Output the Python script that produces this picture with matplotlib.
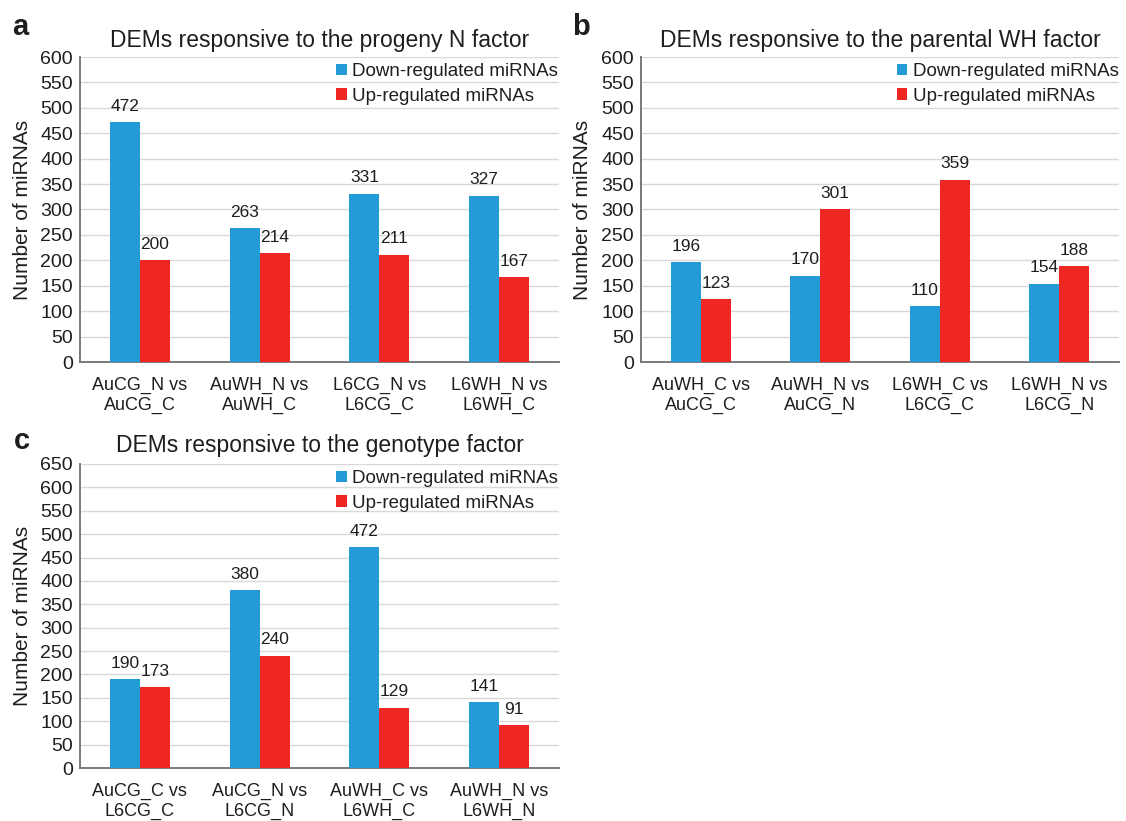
import matplotlib
matplotlib.use("Agg")
import matplotlib.pyplot as plt
import numpy as np

plt.rcParams['font.family'] = ['Liberation Sans', 'DejaVu Sans']

W, H = 1126, 821

# ---------------- data ----------------
titles = ["DEMs responsive to the progeny N factor",
          "DEMs responsive to the parental WH factor",
          "DEMs responsive to the genotype factor"]
panel_letters = ["a", "b", "c"]

cats_a = ["AuCG_N vs\nAuCG_C", "AuWH_N vs\nAuWH_C", "L6CG_N vs\nL6CG_C", "L6WH_N vs\nL6WH_C"]
down_a = [472, 263, 331, 327]
up_a = [200, 214, 211, 167]

cats_b = ["AuWH_C vs\nAuCG_C", "AuWH_N vs\nAuCG_N", "L6WH_C vs\nL6CG_C", "L6WH_N vs\nL6CG_N"]
down_b = [196, 170, 110, 154]
up_b = [123, 301, 359, 188]

cats_c = ["AuCG_C vs\nL6CG_C", "AuCG_N vs\nL6CG_N", "AuWH_C vs\nL6WH_C", "AuWH_N vs\nL6WH_N"]
down_c = [190, 380, 472, 141]
up_c = [173, 240, 129, 91]

series_names = ["Down-regulated miRNAs", "Up-regulated miRNAs"]
ymax = [600, 600, 650]
ystep = 50

BLUE = "#239BD6"
RED = "#EE2624"
TXT = "#1e1e1e"

fig = plt.figure(figsize=(W / 100, H / 100), dpi=100)
fig.patch.set_facecolor("white")

# axes boxes in pixels: left, right, top, bottom
boxes = [(80, 559, 57, 362), (641, 1119, 57, 362), (80, 559, 464, 768)]
letter_pos = [(12, 35), (572, 35), (14, 449)]
title_base = [47, 47, 452]
ylabel_x = [22, 583, 22]

datasets = [(cats_a, down_a, up_a), (cats_b, down_b, up_b), (cats_c, down_c, up_c)]

for i, ((l, r, t, b), (cats, down, up)) in enumerate(zip(boxes, datasets)):
    ax = fig.add_axes([l / W, 1 - b / H, (r - l) / W, (b - t) / H])
    x = np.arange(len(cats))
    w = 0.25
    b1 = ax.bar(x - w / 2, down, w, color=BLUE, label=series_names[0], zorder=3)
    b2 = ax.bar(x + w / 2, up, w, color=RED, label=series_names[1], zorder=3)
    for bars, vals in ((b1, down), (b2, up)):
        for rect, v in zip(bars, vals):
            ax.annotate(str(v), (rect.get_x() + rect.get_width() / 2, v),
                        xytext=(0, 6), textcoords="offset points",
                        ha="center", va="bottom", fontsize=12.5, color=TXT)
    ax.set_xlim(-0.5, len(cats) - 0.5)
    ax.set_ylim(0, ymax[i])
    ax.set_yticks(np.arange(0, ymax[i] + 1, ystep))
    ax.set_xticks(x)
    ax.set_xticklabels(cats, fontsize=13, color=TXT, linespacing=1.15)
    ax.tick_params(axis="y", length=0, pad=5, labelsize=14, labelcolor=TXT)
    ax.tick_params(axis="x", length=0, pad=11)
    ax.grid(axis="y", color="#d9d9d9", linewidth=1.0, zorder=0)
    ax.set_axisbelow(True)
    for s in ("top", "right"):
        ax.spines[s].set_visible(False)
    for s in ("left", "bottom"):
        ax.spines[s].set_color("#7a7a7a")
        ax.spines[s].set_linewidth(1.4)
    leg = ax.legend(loc="upper left", bbox_to_anchor=(0.535, 0.98), frameon=False,
                    fontsize=13.5, handlelength=0.55, handleheight=0.55,
                    handletextpad=0.3, labelspacing=0.4, borderpad=0, borderaxespad=0)
    for txt in leg.get_texts():
        txt.set_color(TXT)
    fig.text((l + r) / 2 / W, 1 - title_base[i] / H, titles[i], ha="center",
             va="baseline", fontsize=16.5, color=TXT)
    lx, ly = letter_pos[i]
    fig.text(lx / W, 1 - ly / H, panel_letters[i], ha="left", va="baseline",
             fontsize=21, fontweight="bold", color=TXT)
    fig.text(ylabel_x[i] / W, 1 - (t + b) / 2 / H, "Number of miRNAs", rotation=90,
             ha="center", va="center", fontsize=15, color=TXT)

fig.savefig("out.png", dpi=100, facecolor="white")
